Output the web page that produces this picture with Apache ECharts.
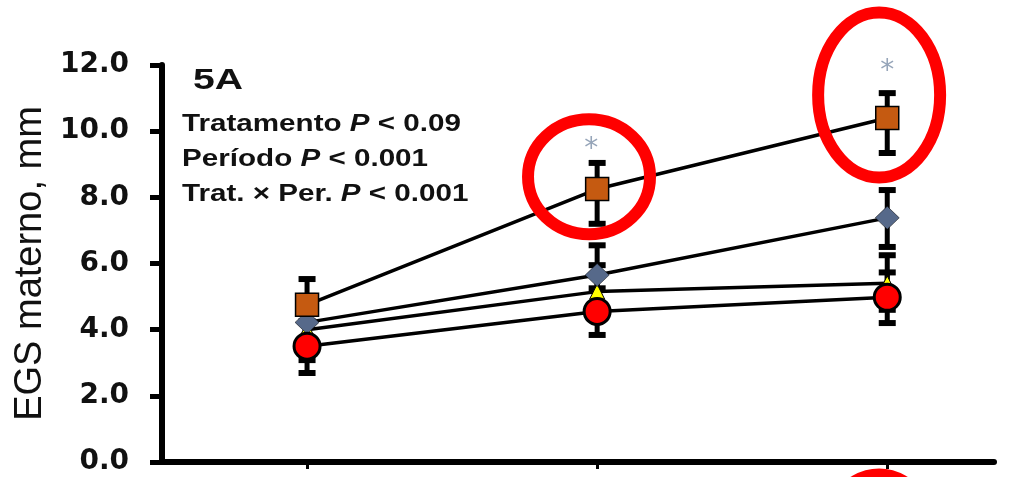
<!DOCTYPE html>
<html><head><meta charset="utf-8">
<script src="https://cdn.jsdelivr.net/npm/echarts@6/dist/echarts.min.js"></script>
<style>html,body{margin:0;padding:0;background:#fff}#c{width:1030px;height:477px}</style>
</head><body><div id="c"></div>
<script>
// ---- data ----
const periods = [1, 2, 3];
const yTicks = [0, 2, 4, 6, 8, 10, 12];
const squareVals = [4.75, 8.25, 10.4];
const squareUp = [0.78, 0.79, 0.75];
const squareDown = [1.0, 1.05, 1.06];
const diamondVals = [4.22, 5.65, 7.38];
const diamondUp = [0.8, 0.9, 0.84];
const diamondDown = [0.9, 0.9, 0.88];
const triangleVals = [4.0, 5.15, 5.4];
const triangleUp = [0.8, 0.8, 0.85];
const triangleDown = [0.92, 0.8, 0.8];
const circleVals = [3.5, 4.55, 4.98];
const circleUp = [0.75, 0.7, 0.75];
const circleDown = [0.81, 0.71, 0.78];
const sigPeriods = [1.98, 3];
const sigVals = [9.62, 11.97];
const yAxisTitle = 'EGS materno, mm';
const panelLabel = '5A';
const statLines = [['Tratamento ', 'P', ' < 0.09'], ['Período ', 'P', ' < 0.001'], ['Trat. × Per. ', 'P', ' < 0.001']];
// highlight ellipses (centre in data units)
const highlightX = [1.972, 2.972, 2.972];
const highlightY = [8.62, 11.09, -2.87];

const chart = echarts.init(document.getElementById('c'), null, {renderer: 'canvas'});

function errSeries(vals, up, down) {
  return {
    type: 'custom', z: 1, silent: true, animation: false,
    data: periods.map((p, i) => [p, vals[i] + up[i], vals[i] - down[i]]),
    encode: {x: 0, y: [1, 2]},
    renderItem(params, api) {
      const x = api.value(0);
      const top = api.coord([x, api.value(1)]);
      const bot = api.coord([x, api.value(2)]);
      const w = 8.5;
      return {type: 'group', children: [
        {type: 'line', shape: {x1: top[0], y1: top[1], x2: bot[0], y2: bot[1]}, style: {stroke: '#000', lineWidth: 5}},
        {type: 'line', shape: {x1: top[0] - w, y1: top[1], x2: top[0] + w, y2: top[1]}, style: {stroke: '#000', lineWidth: 6}},
        {type: 'line', shape: {x1: bot[0] - w, y1: bot[1], x2: bot[0] + w, y2: bot[1]}, style: {stroke: '#000', lineWidth: 6}}
      ]};
    }
  };
}
function lineSeries(vals, symbol, size, color, borderW, z) {
  return {
    type: 'line', z: z, animation: false, silent: true,
    data: periods.map((p, i) => [p, vals[i]]),
    symbol: symbol, symbolSize: size, showAllSymbol: true,
    lineStyle: {color: '#000', width: 3.5},
    itemStyle: {color: color, borderColor: '#000', borderWidth: borderW, opacity: 1}
  };
}

const option = {
  animation: false,
  grid: {left: 162, right: 36, top: 65, bottom: 15, containLabel: false},
  xAxis: {
    type: 'value', min: 0.5, max: 3.368,
    axisLine: {show: true, onZero: false, lineStyle: {color: '#000', width: 6}},
    axisTick: {show: true, customValues: periods, length: 7, lineStyle: {color: '#000', width: 3}},
    axisLabel: {show: false},
    splitLine: {show: false}
  },
  yAxis: {
    type: 'value', min: 0, max: 12, interval: 2,
    name: yAxisTitle, nameLocation: 'middle', nameRotate: 90, nameGap: 111,
    nameTextStyle: {fontFamily: 'Liberation Sans', fontSize: 38, color: '#111'},
    axisLine: {show: true, lineStyle: {color: '#000', width: 6}},
    axisTick: {show: true, length: 12, lineStyle: {color: '#000', width: 5}},
    axisLabel: {
      margin: 33, fontFamily: 'DejaVu Sans', fontWeight: 'bold', fontSize: 28, color: '#111',
      formatter: v => yTicks.includes(v) ? v.toFixed(1) : ''
    },
    splitLine: {show: false}
  },
  series: [
    errSeries(triangleVals, triangleUp, triangleDown),
    errSeries(diamondVals, diamondUp, diamondDown),
    errSeries(squareVals, squareUp, squareDown),
    errSeries(circleVals, circleUp, circleDown),
    lineSeries(triangleVals, 'triangle', 15, '#FFFF00', 1, 2),
    lineSeries(diamondVals, 'diamond', [24, 23], '#56698A', 0.5, 3),
    lineSeries(squareVals, 'rect', 23, '#C55A11', 1.5, 4),
    lineSeries(circleVals, 'circle', 26, '#FF0000', 3, 5),
    {
      type: 'scatter', z: 6, silent: true, animation: false,
      data: sigPeriods.map((p, i) => [p, sigVals[i]]),
      symbolSize: 2, itemStyle: {color: 'rgba(0,0,0,0)'},
      label: {show: true, position: 'inside', formatter: '*', fontFamily: 'DejaVu Sans', fontSize: 28,
        color: '#7C8EA8', offset: [0, 6]}
    }
  ]
};
chart.setOption(option);

const graphics = [];
graphics.push({type: 'text', x: 193, y: 81, scaleX: 1.35, z: 10,
  style: {text: panelLabel, fontFamily: 'Liberation Sans', fontWeight: 'bold', fontSize: 29, fill: '#111', verticalAlign: 'middle', align: 'left'}});
const lineYs = [125, 160, 195];
statLines.forEach((parts, i) => {
  graphics.push({type: 'text', x: 182, y: lineYs[i], scaleX: 1.26, z: 10,
    style: {
      text: '{b|' + parts[0] + '}{i|' + parts[1] + '}{b|' + parts[2] + '}',
      verticalAlign: 'middle', align: 'left',
      rich: {
        b: {fontFamily: 'Liberation Sans', fontWeight: 'bold', fontSize: 23.5, fill: '#111', color: '#111'},
        i: {fontFamily: 'Liberation Sans', fontWeight: 'bold', fontStyle: 'italic', fontSize: 23.5, fill: '#111', color: '#111'}
      }
    }});
});
const radii = [[61, 57.5], [61, 82.5], [61, 82.5]];
highlightX.forEach((hx, i) => {
  const c = chart.convertToPixel({gridIndex: 0}, [hx, highlightY[i]]);
  graphics.push({type: 'ellipse', z: 20, silent: true,
    shape: {cx: c[0], cy: c[1], rx: radii[i][0], ry: radii[i][1]},
    style: {fill: 'none', stroke: '#FF0000', lineWidth: 12}});
});
chart.setOption({graphic: graphics});
</script></body></html>
